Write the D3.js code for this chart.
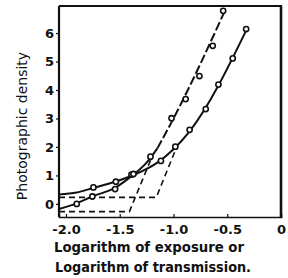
<!DOCTYPE html>
<html>
<head>
<meta charset="utf-8">
<script src="https://cdn.jsdelivr.net/npm/d3@7"></script>
<style>
  body { margin: 0; background: #fff; }
  text { font-family: "DejaVu Sans", sans-serif; fill: #111; }
</style>
</head>
<body>
<div id="chart"></div>
<script>
// measured points, steep curve (left)
var leftX = [-1.90, -1.755, -1.543, -1.391, -1.214, -1.018, -0.887, -0.759, -0.635, -0.538];
var leftY = [0.0, 0.26, 0.52, 1.03, 1.66, 3.01, 3.68, 4.49, 5.55, 6.78];
// measured points, flatter curve (right)
var rightX = [-1.745, -1.536, -1.372, -1.117, -0.983, -0.85, -0.70, -0.582, -0.449, -0.324];
var rightY = [0.58, 0.78, 1.05, 1.51, 2.01, 2.60, 3.33, 4.19, 5.11, 6.14];

// drawn curves
var leftLineLow = [[-2.065, -0.18], [-1.9, 0.02], [-1.75, 0.27], [-1.55, 0.55], [-1.40, 0.95], [-1.25, 1.45], [-1.15, 1.95]];
var leftLineHigh = [[-1.15, 1.95], [-1.0, 3.0], [-0.52, 6.8]];
var rightLine = [[-2.065, 0.33], [-1.9, 0.40], [-1.75, 0.56], [-1.55, 0.77], [-1.35, 1.05], [-1.15, 1.45], [-1.0, 1.92], [-0.85, 2.55], [-0.31, 6.2]];
// dashed extrapolations
var dashLeft = [[-2.065, -0.27], [-1.41, -0.27], [-1.2, 1.66]];
var dashRight = [[-2.065, 0.23], [-1.16, 0.23], [-0.97, 2.0]];

var xTicks = [-2.0, -1.5, -1.0, -0.5, 0];
var xTickLabels = ["-2.0", "-1.5", "-1.0", "-0.5", "0"];
var yTicks = [0, 1, 2, 3, 4, 5, 6];

var w = 288, h = 278;
var svg = d3.select("#chart").append("svg")
    .attr("width", w)
    .attr("height", h);

var x = d3.scaleLinear().domain([-2.065, 0]).range([59, 281]);
var y = d3.scaleLinear().domain([-0.46, 6.95]).range([217, 6]);

var line = d3.line()
    .x(function(d) { return x(d[0]); })
    .y(function(d) { return y(d[1]); });
var smooth = d3.line()
    .curve(d3.curveMonotoneX)
    .x(function(d) { return x(d[0]); })
    .y(function(d) { return y(d[1]); });

// frame
svg.append("line").attr("x1", 59).attr("x2", 59).attr("y1", 6).attr("y2", 217)
    .attr("stroke", "#111").attr("stroke-width", 2.2);
svg.append("line").attr("x1", 59).attr("x2", 282).attr("y1", 6).attr("y2", 6)
    .attr("stroke", "#111").attr("stroke-width", 2);
svg.append("line").attr("x1", 281).attr("x2", 281).attr("y1", 6).attr("y2", 218)
    .attr("stroke", "#111").attr("stroke-width", 2.6);

// axes
var xAxis = d3.axisBottom(x).tickValues(xTicks).tickSize(-3).tickPadding(8)
    .tickFormat(function(d, i) { return xTickLabels[i]; });
var gx = svg.append("g").attr("transform", "translate(0,217)").call(xAxis);
gx.select(".domain").attr("stroke", "#111").attr("stroke-width", 1.5);
gx.selectAll("line").attr("stroke", "#111").attr("stroke-width", 1.2);
gx.selectAll("text").attr("font-size", 13).attr("font-weight", "bold")
    .attr("font-family", "DejaVu Sans, sans-serif");

var yAxis = d3.axisLeft(y).tickValues(yTicks).tickSize(3).tickPadding(2);
var gy = svg.append("g").attr("transform", "translate(59,0)").call(yAxis);
gy.select(".domain").remove();
gy.selectAll("line").attr("stroke", "#111").attr("stroke-width", 1.2);
gy.selectAll("text").attr("font-size", 13).attr("font-weight", "bold")
    .attr("font-family", "DejaVu Sans, sans-serif");

// dashed extrapolations
[dashLeft, dashRight].forEach(function(d) {
    svg.append("path").attr("d", line(d))
        .attr("fill", "none").attr("stroke", "#111")
        .attr("stroke-width", 1.6).attr("stroke-dasharray", "6,4");
});

// curves
svg.append("path").attr("d", smooth(leftLineLow))
    .attr("fill", "none").attr("stroke", "#111").attr("stroke-width", 2);
svg.append("path").attr("d", smooth(leftLineHigh))
    .attr("fill", "none").attr("stroke", "#111").attr("stroke-width", 2)
    .attr("stroke-dasharray", "9,3");
svg.append("path").attr("d", smooth(rightLine))
    .attr("fill", "none").attr("stroke", "#111").attr("stroke-width", 2);

// points
function drawPoints(xs, ys) {
    svg.append("g").selectAll("circle")
        .data(xs)
        .enter()
        .append("circle")
        .attr("cx", function(d) { return x(d); })
        .attr("cy", function(d, i) { return y(ys[i]); })
        .attr("r", 2.6)
        .attr("fill", "#fff")
        .attr("stroke", "#111")
        .attr("stroke-width", 1.6);
}
drawPoints(leftX, leftY);
drawPoints(rightX, rightY);

// titles
svg.append("text")
    .attr("transform", "translate(27,126) rotate(-90)")
    .attr("text-anchor", "middle")
    .attr("font-size", 14)
    .text("Photographic density");

svg.append("text").attr("x", 54).attr("y", 252)
    .attr("font-size", 14).attr("font-weight", "bold")
    .attr("textLength", 190).attr("lengthAdjust", "spacingAndGlyphs")
    .text("Logarithm of exposure or");
svg.append("text").attr("x", 55).attr("y", 272)
    .attr("font-size", 14).attr("font-weight", "bold")
    .attr("textLength", 196).attr("lengthAdjust", "spacingAndGlyphs")
    .text("Logarithm of transmission.");
</script>
</body>
</html>
